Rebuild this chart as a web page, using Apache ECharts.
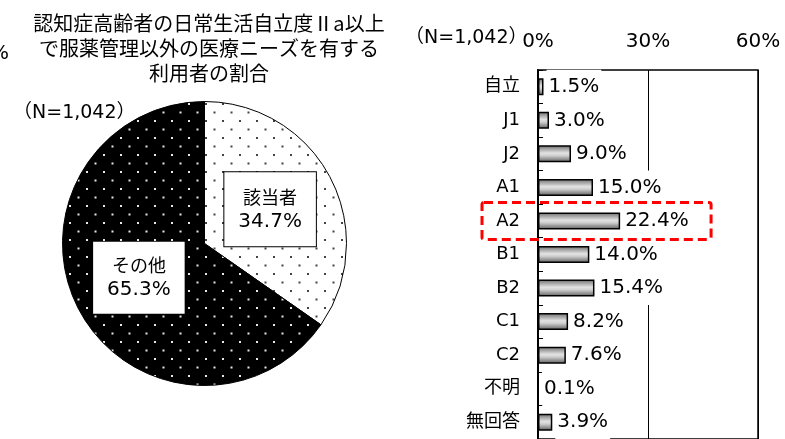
<!DOCTYPE html>
<html><head><meta charset="utf-8">
<script src="https://cdn.jsdelivr.net/npm/echarts@6/dist/echarts.min.js"></script>
<style>html,body{margin:0;padding:0;background:#fff}#c{width:785px;height:439px}</style>
</head><body><div id="c"></div>
<script>
var pieNames = ['該当者', 'その他'];
var pieValues = [34.7, 65.3];
var barCategories = ['自立', 'J1', 'J2', 'A1', 'A2', 'B1', 'B2', 'C1', 'C2', '不明', '無回答'];
var barValues = [1.5, 3.0, 9.0, 15.0, 22.4, 14.0, 15.4, 8.2, 7.6, 0.1, 3.9];
var xTicks = [0, 30, 60];
var titleLines = ['認知症高齢者の日常生活自立度Ⅱa以上', 'で服薬管理以外の医療ニーズを有する', '利用者の割合'];
var highlightCategory = 'A2';

var FONT = '"DejaVu Sans", "Noto Sans CJK JP", sans-serif';
var CJK = '"Noto Sans CJK JP", "DejaVu Sans", sans-serif';

function makePattern(bg, dot) {
  var c = document.createElement('canvas');
  c.width = 17; c.height = 17;
  var g = c.getContext('2d');
  g.fillStyle = bg; g.fillRect(0, 0, 17, 17);
  g.fillStyle = dot;
  g.fillRect(1, 1, 2, 2);
  g.fillRect(9.5, 9.5, 2, 2);
  return c;
}

var chart = echarts.init(document.getElementById('c'), null, {renderer: 'canvas'});
var barGrad = new echarts.graphic.LinearGradient(0, 0, 0, 1, [
  {offset: 0, color: '#6a6a6a'},
  {offset: 0.45, color: '#e2e2e2'},
  {offset: 0.6, color: '#d0d0d0'},
  {offset: 1, color: '#5a5a5a'}
]);

var option = {
  animation: false,
  backgroundColor: '#fff',
  textStyle: {fontFamily: FONT},
  title: {
    text: titleLines.join('\n'),
    left: 204, top: 6, textAlign: 'center',
    textStyle: {fontFamily: CJK, fontSize: 20, fontWeight: 'normal', color: '#000', lineHeight: 25}
  },
  grid: {left: 538, top: 70, width: 220, height: 373, show: true, borderColor: '#000', borderWidth: 1.5, backgroundColor: 'transparent'},
  xAxis: {
    type: 'value', position: 'top', min: xTicks[0], max: xTicks[xTicks.length - 1], interval: 30,
    axisLine: {show: false}, axisTick: {show: false},
    axisLabel: {formatter: '{value}%', fontSize: 20, color: '#000', margin: 18, fontFamily: FONT},
    splitLine: {show: true, lineStyle: {color: '#000', width: 1}}
  },
  yAxis: {
    type: 'category', inverse: true, data: barCategories,
    axisLine: {show: true, lineStyle: {color: '#000', width: 2}},
    axisTick: {show: true, inside: true, length: 5, lineStyle: {color: '#000'}},
    axisLabel: {fontSize: 18, color: '#000', margin: 18, fontFamily: FONT}
  },
  series: [
    {
      type: 'pie', center: [204.5, 243.5], radius: 142, startAngle: 90, clockwise: true,
      silent: true,
      data: pieNames.map(function (n, i) {
        return {
          name: n, value: pieValues[i],
          itemStyle: {color: {image: i === 0 ? makePattern('#fff', '#444') : makePattern('#000', '#e8e8e8'), repeat: 'repeat'}, borderColor: '#000', borderWidth: 1},
          label: i === 0 ?
            {backgroundColor: '#fff', borderColor: '#000', borderWidth: 1, padding: [12, 14, 12, 14]} :
            {backgroundColor: '#fff', padding: [11, 14, 11, 14]}
        };
      }),
      label: {
        show: true, position: 'inside',
        formatter: function (p) { return '{n|' + p.name + '}\n{v|' + p.value.toFixed(1) + '%}'; },
        color: '#000', align: 'center',
        rich: {
          n: {fontSize: 18, lineHeight: 25, fontFamily: CJK, color: '#000', align: 'center'},
          v: {fontSize: 20, lineHeight: 25, fontFamily: FONT, color: '#000', align: 'center'}
        }
      },
      labelLine: {show: false}
    },
    {
      type: 'bar', data: barValues, barWidth: 17,
      itemStyle: {color: barGrad, borderColor: '#000', borderWidth: 1.5},
      label: {
        show: true, position: 'right', distance: 3, fontSize: 20, color: '#000', fontFamily: FONT,
        formatter: function (p) { return p.value.toFixed(1) + '%'; },
        backgroundColor: '#fff', padding: [7, 2, 7, 2]
      }
    }
  ],
  graphic: [
    {type: 'text', left: 13, top: 104, style: {text: '（N=1,042）', fontSize: 19, fill: '#000', fontFamily: FONT}},
    {type: 'text', left: 405, top: 29, style: {text: '（N=1,042）', fontSize: 19, fill: '#000', fontFamily: FONT}},
    {type: 'text', left: -10, top: 44, style: {text: '%', fontSize: 20, fill: '#000', fontFamily: FONT}}
  ]
};
chart.setOption(option);

var cy = chart.convertToPixel({gridIndex: 0}, [0, highlightCategory]);
var x0 = cy[0];
var rightPx = chart.convertToPixel({gridIndex: 0}, [47.2, highlightCategory])[0];
chart.setOption({
  graphic: option.graphic.concat([{
    type: 'rect', z: 100,
    shape: {x: x0 - 56, y: cy[1] - 18.5, width: rightPx - (x0 - 56), height: 37, r: 2},
    style: {fill: 'none', stroke: '#ff0000', lineWidth: 3, lineDash: [9, 5]}
  }])
});
</script>
</body></html>
